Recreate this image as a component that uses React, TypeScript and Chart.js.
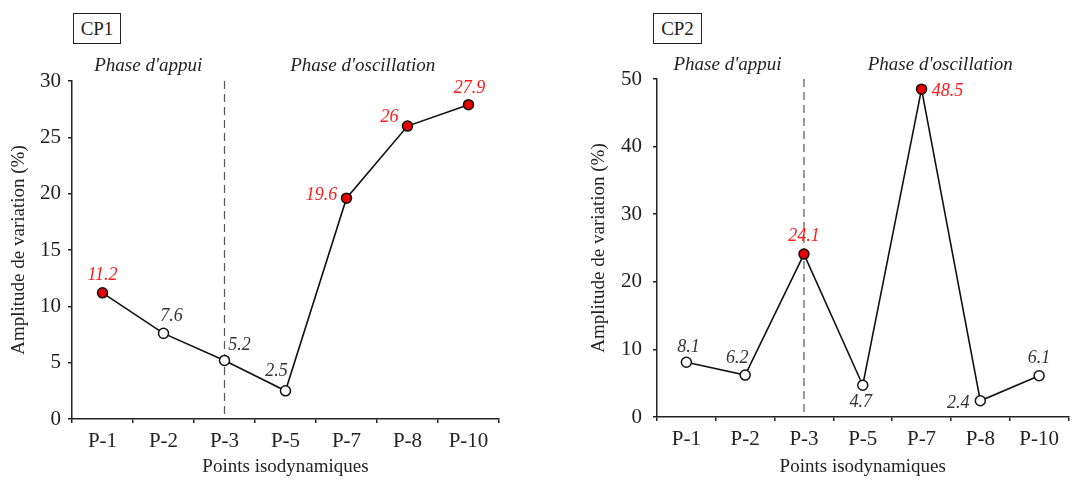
import React, { useEffect, useRef } from "react";
import { Chart, registerables } from "chart.js";

Chart.register(...registerables);

const categories = ["P-1", "P-2", "P-3", "P-5", "P-7", "P-8", "P-10"];
const cp1Values = [11.2, 7.6, 5.2, 2.5, 19.6, 26, 27.9];
const cp2Values = [8.1, 6.2, 24.1, 4.7, 48.5, 2.4, 6.1];
const cp1Highlight = [true, false, false, false, true, true, true];
const cp2Highlight = [false, false, true, false, true, false, false];
const phaseLabels = ["Phase d'appui", "Phase d'oscillation"];
const dividerCategory = "P-3";
const yTitle = "Amplitude de variation (%)";
const xTitle = "Points isodynamiques";

const SERIF = "'Liberation Serif', 'Times New Roman', serif";
const TEXT = "#222";
const RED = "#ff1a1a";
const POINT_RED = "#e80000";

const annotPlugin = {
  id: "annot",
  beforeDatasetsDraw(chart: any) {
    const { ctx, chartArea, scales } = chart;
    const x = scales.x.getPixelForValue(categories.indexOf(dividerCategory));
    ctx.save();
    ctx.strokeStyle = "#555";
    ctx.lineWidth = 1.2;
    ctx.setLineDash([8, 5]);
    ctx.beginPath();
    ctx.moveTo(x, chartArea.top);
    ctx.lineTo(x, chartArea.bottom);
    ctx.stroke();
    ctx.restore();
  },
  afterDatasetsDraw(chart: any, _args: any, opts: any) {
    const { ctx, chartArea, scales } = chart;
    const meta = chart.getDatasetMeta(0);
    const data = chart.data.datasets[0].data;
    ctx.save();
    ctx.font = `italic 18px ${SERIF}`;
    ctx.textAlign = "center";
    ctx.textBaseline = "middle";
    meta.data.forEach((pt: any, i: number) => {
      const [dx, dy] = opts.offsets[i];
      ctx.fillStyle = opts.highlight[i] ? RED : "#333";
      ctx.fillText(String(data[i]), pt.x + dx, pt.y + dy);
    });
    // phase labels
    const xd = scales.x.getPixelForValue(categories.indexOf(dividerCategory));
    ctx.font = `italic 19px ${SERIF}`;
    ctx.fillStyle = TEXT;
    const ty = chartArea.top - opts.phaseGap;
    ctx.fillText(phaseLabels[0], (chartArea.left + xd) / 2 + opts.phaseShift[0], ty);
    ctx.fillText(phaseLabels[1], (xd + chartArea.right) / 2 + opts.phaseShift[1], ty);
    ctx.restore();
  },
};

function makeConfig(values: number[], highlight: boolean[], yMax: number, yStep: number, g: any): any {
  return {
    type: "line",
    data: {
      labels: categories,
      datasets: [
        {
          data: values,
          borderColor: "#111",
          borderWidth: 1.6,
          pointRadius: 5,
          pointBorderWidth: 1.5,
          pointBorderColor: "#111",
          pointBackgroundColor: highlight.map((h) => (h ? POINT_RED : "#fff")),
          tension: 0,
          clip: false,
        },
      ],
    },
    options: {
      responsive: false,
      maintainAspectRatio: false,
      animation: false,
      layout: { padding: { left: g.padLeft, right: g.padRight, top: g.padTop, bottom: 0 } },
      plugins: {
        legend: { display: false },
        tooltip: { enabled: false },
        annot: { offsets: g.offsets, highlight, phaseGap: g.phaseGap, phaseShift: g.phaseShift },
      },
      scales: {
        x: {
          offset: true,
          grid: { offset: true, drawOnChartArea: false, drawTicks: true, tickLength: 4, color: "#222", lineWidth: 1.5 },
          border: { display: true, color: "#222", width: 1.5 },
          ticks: { font: { family: SERIF, size: 21 }, color: TEXT, padding: 6, maxRotation: 0, autoSkip: false },
          title: { display: true, text: xTitle, font: { family: SERIF, size: 19 }, color: TEXT, padding: { top: 0, bottom: 2 } },
          afterFit: (s: any) => {
            s.height = g.xHeight;
          },
        },
        y: {
          min: 0,
          max: yMax,
          grid: { drawOnChartArea: false, drawTicks: true, tickLength: 4, color: "#222", lineWidth: 1.5 },
          border: { display: true, color: "#222", width: 1.5 },
          ticks: { stepSize: yStep, font: { family: SERIF, size: 21 }, color: TEXT, padding: g.yTickPad },
          title: { display: true, text: yTitle, font: { family: SERIF, size: 19 }, color: TEXT, padding: { top: g.yTitlePad, bottom: 0 } },
          afterFit: (s: any) => {
            s.width = g.yWidth;
          },
        },
      },
    },
    plugins: [annotPlugin],
  };
}

const geom1 = {
  padLeft: 0,
  padRight: 41,
  padTop: 81,
  xHeight: 61,
  yWidth: 72,
  yTickPad: 7,
  yTitlePad: 8,
  phaseGap: 15,
  phaseShift: [0, 1],
  offsets: [
    [0, -18],
    [8, -17],
    [15, -15],
    [-9, -20],
    [-25, -3],
    [-18, -9],
    [1, -16],
  ],
};

const geom2 = {
  padLeft: 40,
  padRight: 2,
  padTop: 79,
  xHeight: 63,
  yWidth: 77,
  yTickPad: 11,
  yTitlePad: 8,
  phaseGap: 14,
  phaseShift: [-3, 4],
  offsets: [
    [2, -15],
    [-8, -17],
    [0, -18],
    [-2, 17],
    [26, 2],
    [-22, 2],
    [0, -17],
  ],
};

function LineChart({ config, left, width }: { config: any; left: number; width: number }) {
  const ref = useRef<HTMLCanvasElement | null>(null);
  useEffect(() => {
    if (!ref.current) return;
    const chart = new Chart(ref.current, config);
    return () => chart.destroy();
  }, [config]);
  return (
    <canvas
      ref={ref}
      width={width}
      height={480}
      style={{ position: "absolute", left, top: 0, width, height: 480, display: "block" }}
    />
  );
}

const boxStyle: React.CSSProperties = {
  position: "absolute",
  top: 13,
  width: 48,
  height: 31,
  boxSizing: "border-box",
  border: "1.5px solid #222",
  fontFamily: SERIF,
  fontSize: 19,
  color: TEXT,
  display: "flex",
  alignItems: "center",
  justifyContent: "center",
  background: "#fff",
};

const config1 = makeConfig(cp1Values, cp1Highlight, 30, 5, geom1);
const config2 = makeConfig(cp2Values, cp2Highlight, 50, 10, geom2);

export default function App() {
  return (
    <div style={{ position: "absolute", left: 0, top: 0, width: 1075, height: 480, background: "#fff", overflow: "hidden" }}>
      <LineChart config={config1} left={0} width={540} />
      <LineChart config={config2} left={540} width={535} />
      <div style={{ ...boxStyle, left: 73 }}>CP1</div>
      <div style={{ ...boxStyle, left: 653, width: 49 }}>CP2</div>
    </div>
  );
}
